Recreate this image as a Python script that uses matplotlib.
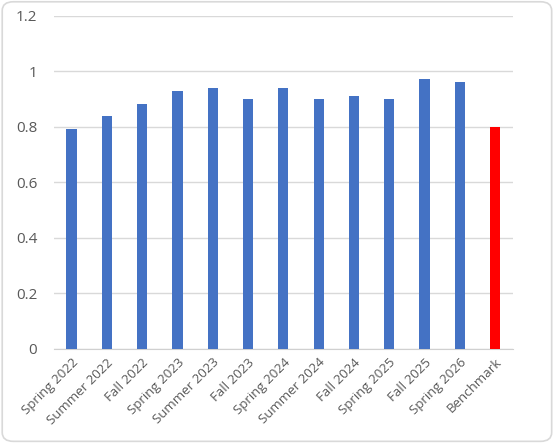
import matplotlib.pyplot as plt
from matplotlib.patches import FancyBboxPatch

categories = [
    "Spring 2022", "Summer 2022", "Fall 2022", "Spring 2023", "Summer 2023",
    "Fall 2023", "Spring 2024", "Summer 2024", "Fall 2024", "Spring 2025",
    "Fall 2025", "Spring 2026", "Benchmark",
]
values = [0.79, 0.84, 0.88, 0.93, 0.94, 0.90, 0.94, 0.90, 0.91, 0.90, 0.97, 0.96, 0.80]
colors = ["#4472C4"] * 12 + ["#FF0000"]
yticks = [0, 0.2, 0.4, 0.6, 0.8, 1, 1.2]
ytick_labels = ["0", "0.2", "0.4", "0.6", "0.8", "1", "1.2"]

plt.rcParams["font.family"] = ["Open Sans", "DejaVu Sans"]

fig = plt.figure(figsize=(5.55, 4.44), dpi=100)
ax = fig.add_axes([0.097, 0.214, 0.827, 0.751])

x = list(range(len(categories)))
ax.bar(x, values, width=0.29, color=colors, zorder=3)

ax.set_xlim(-0.5, len(categories) - 0.5)
ax.set_ylim(0, 1.2)
ax.set_yticks(yticks)
ax.set_yticklabels(ytick_labels, fontsize=11, color="#595959")
ax.set_xticks(x)
ax.set_xticklabels(categories, rotation=45, ha="right", rotation_mode="anchor",
                   fontsize=9.5, color="#595959")

ax.grid(axis="y", color="#D9D9D9", linewidth=1, zorder=0)
for side in ["top", "right", "left"]:
    ax.spines[side].set_visible(False)
ax.spines["bottom"].set_color("#D0D0D0")
ax.tick_params(axis="x", length=0, pad=5)
ax.tick_params(axis="y", length=0, pad=12)

# rounded chart border
border = FancyBboxPatch((0.004, 0.006), 0.99, 0.99, boxstyle="round,pad=0,rounding_size=0.02",
                        transform=fig.transFigure, fill=False, edgecolor="#D9D9D9",
                        linewidth=1.2)
fig.patches.append(border)

fig.savefig("out.png", dpi=100)
